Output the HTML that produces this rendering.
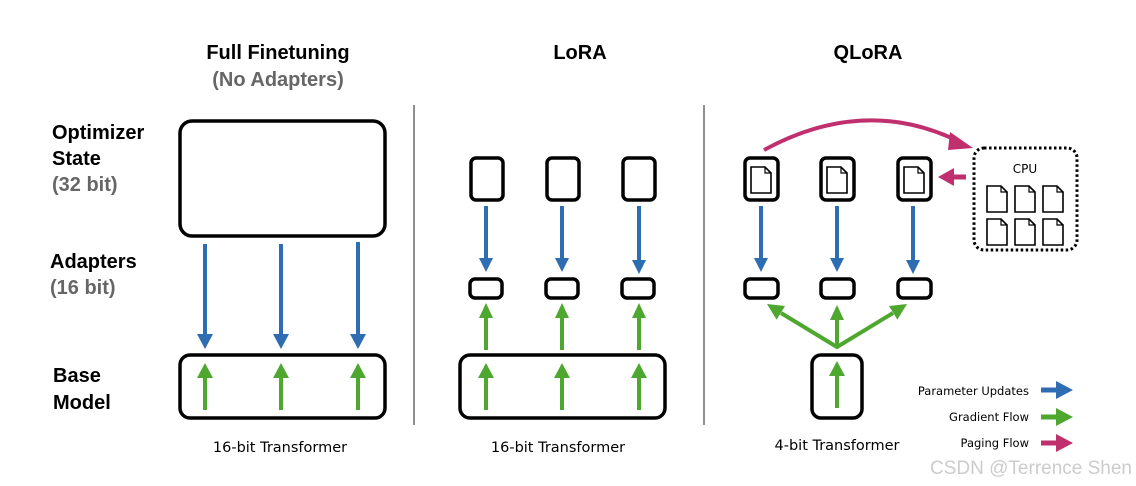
<!DOCTYPE html>
<html><head><meta charset="utf-8"><style>
html,body{margin:0;padding:0;background:#fff;}
svg{display:block;}
.t{font-family:"Liberation Sans Narrow","Liberation Sans",sans-serif;font-weight:bold;}
.n{font-family:"DejaVu Sans","Liberation Sans",sans-serif;}
</style></head><body>
<svg width="1136" height="486" viewBox="0 0 1136 486" xmlns="http://www.w3.org/2000/svg">
<defs>
<g id="doc"><path d="M0 0 H14 L20 6 V26 H0 Z" fill="#fff" stroke="#000" stroke-width="1.6"/><path d="M14 0 V6 H20" fill="none" stroke="#000" stroke-width="1.2"/></g>
</defs>
<text class="t" x="278" y="59" font-size="20" text-anchor="middle">Full Finetuning</text>
<text class="t" x="278" y="86" font-size="20" text-anchor="middle" fill="#666">(No Adapters)</text>
<text class="t" x="580" y="59" font-size="20" text-anchor="middle">LoRA</text>
<text class="t" x="868" y="59" font-size="20" text-anchor="middle">QLoRA</text>
<text class="t" x="52" y="139" font-size="20">Optimizer</text>
<text class="t" x="52" y="165" font-size="20">State</text>
<text class="t" x="52" y="191" font-size="20" fill="#666">(32 bit)</text>
<text class="t" x="50" y="268" font-size="20">Adapters</text>
<text class="t" x="50" y="294" font-size="20" fill="#666">(16 bit)</text>
<text class="t" x="53" y="382" font-size="20">Base</text>
<text class="t" x="53" y="409" font-size="20">Model</text>
<line x1="414" y1="105" x2="414" y2="425" stroke="#555" stroke-width="1.3"/>
<line x1="704" y1="105" x2="704" y2="425" stroke="#555" stroke-width="1.3"/>
<g fill="none" stroke="#000" stroke-width="3.5">
<rect x="180" y="121" width="205" height="115" rx="12"/>
<rect x="180" y="355" width="205" height="63" rx="10"/>
<rect x="460" y="355" width="205" height="63" rx="10"/>
<rect x="471" y="158" width="32" height="42" rx="5"/>
<rect x="547" y="158" width="32" height="42" rx="5"/>
<rect x="623" y="158" width="32" height="42" rx="5"/>
<rect x="470" y="279" width="32" height="19" rx="5"/>
<rect x="546" y="279" width="32" height="19" rx="5"/>
<rect x="622" y="279" width="32" height="19" rx="5"/>
<rect x="745" y="158" width="33" height="42" rx="5"/>
<rect x="821" y="158" width="33" height="42" rx="5"/>
<rect x="898" y="158" width="33" height="42" rx="5"/>
<rect x="745" y="279" width="33" height="19" rx="5"/>
<rect x="821" y="279" width="33" height="19" rx="5"/>
<rect x="898" y="279" width="33" height="19" rx="5"/>
<rect x="812" y="355" width="50" height="63" rx="9"/>
</g>
<use href="#doc" x="751" y="167"/><use href="#doc" x="827" y="167"/><use href="#doc" x="904" y="167"/>
<rect x="974" y="148" width="103" height="102" rx="10" fill="none" stroke="#000" stroke-width="3" stroke-dasharray="2.5 2.5"/>
<text class="n" x="1025" y="173" font-size="12" text-anchor="middle">CPU</text>
<use href="#doc" x="987" y="186"/><use href="#doc" x="1015" y="186"/><use href="#doc" x="1043" y="186"/>
<use href="#doc" x="987" y="219"/><use href="#doc" x="1015" y="219"/><use href="#doc" x="1043" y="219"/>
<g stroke="#2f6db3" stroke-width="4"><line x1="205" y1="244" x2="205" y2="336"/><line x1="281" y1="244" x2="281" y2="336"/><line x1="358" y1="242" x2="358" y2="336"/>
<line x1="486" y1="206" x2="486" y2="260"/><line x1="562" y1="206" x2="562" y2="260"/><line x1="639" y1="206" x2="639" y2="262"/>
<line x1="761" y1="206" x2="761" y2="260"/><line x1="837" y1="206" x2="837" y2="260"/><line x1="913" y1="206" x2="913" y2="262"/>
<line x1="1041" y1="390" x2="1058" y2="390" stroke-width="5"/></g>
<g fill="#2f6db3">
<polygon points="197,334 213,334 205,349"/><polygon points="273,334 289,334 281,349"/><polygon points="350,334 366,334 358,349"/>
<polygon points="479,258 493,258 486,272"/><polygon points="555,258 569,258 562,272"/><polygon points="632,260 646,260 639,274"/>
<polygon points="754,258 768,258 761,272"/><polygon points="830,258 844,258 837,272"/><polygon points="906,260 920,260 913,274"/>
<polygon points="1056,381 1073,390 1056,399"/></g>
<g stroke="#4ea72e" stroke-width="4" fill="none">
<line x1="205" y1="410" x2="205" y2="376"/><line x1="281" y1="410" x2="281" y2="376"/><line x1="358" y1="410" x2="358" y2="376"/>
<line x1="486" y1="410" x2="486" y2="376"/><line x1="562" y1="410" x2="562" y2="376"/><line x1="639" y1="410" x2="639" y2="376"/>
<line x1="486" y1="350" x2="486" y2="316"/><line x1="562" y1="350" x2="562" y2="316"/><line x1="639" y1="350" x2="639" y2="316"/>
<line x1="837" y1="408" x2="837" y2="374"/>
<polyline points="781,313 837,347 893,313"/><line x1="837" y1="347" x2="837" y2="318"/>
<line x1="1041" y1="417" x2="1058" y2="417" stroke-width="5"/></g>
<g fill="#4ea72e">
<polygon points="197,378 213,378 205,363"/><polygon points="273,378 289,378 281,363"/><polygon points="350,378 366,378 358,363"/>
<polygon points="478,378 494,378 486,363"/><polygon points="554,378 570,378 562,363"/><polygon points="631,378 647,378 639,363"/>
<polygon points="479,318 493,318 486,303"/><polygon points="555,318 569,318 562,303"/><polygon points="632,318 646,318 639,303"/>
<polygon points="829,376 845,376 837,361"/>
<polygon points="830,320 844,320 837,305"/>
<polygon points="785,306 776.6,319.6 767,304"/>
<polygon points="889,306 897.4,319.6 907,304"/>
<polygon points="1056,408 1073,417 1056,426"/></g>
<path d="M764 150 Q865 95 960 142" fill="none" stroke="#c0306f" stroke-width="4"/>
<polygon points="950,132 973,148 948,150" fill="#c0306f"/>
<line x1="966" y1="177" x2="952" y2="177" stroke="#c0306f" stroke-width="5"/>
<polygon points="954,168 938,177 954,186" fill="#c0306f"/>
<line x1="1041" y1="443" x2="1058" y2="443" stroke="#c0306f" stroke-width="5"/>
<polygon points="1056,434 1073,443 1056,452" fill="#c0306f"/>
<text class="n" x="1029" y="395" font-size="11.5" text-anchor="end">Parameter Updates</text>
<text class="n" x="1029" y="421" font-size="11.5" text-anchor="end">Gradient Flow</text>
<text class="n" x="1029" y="447" font-size="11.5" text-anchor="end">Paging Flow</text>
<text class="n" x="280" y="452" font-size="14.5" text-anchor="middle">16-bit Transformer</text>
<text class="n" x="558" y="452" font-size="14.5" text-anchor="middle">16-bit Transformer</text>
<text class="n" x="837" y="450" font-size="14.5" text-anchor="middle">4-bit Transformer</text>
<text x="1132" y="474" font-size="19" text-anchor="end" fill="#ccc" font-family="Liberation Sans, sans-serif">CSDN @Terrence Shen</text>
</svg>
</body></html>
